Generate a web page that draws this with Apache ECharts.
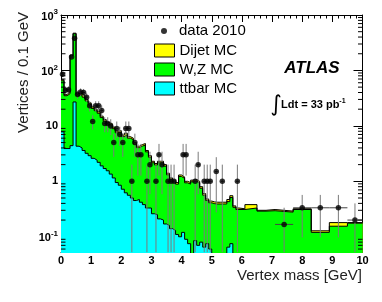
<!DOCTYPE html>
<html><head><meta charset="utf-8">
<script src="https://cdn.jsdelivr.net/npm/echarts@6/dist/echarts.min.js"></script>
<style>html,body{margin:0;padding:0;background:#fff}#c{width:382px;height:302px}</style>
</head><body><div id="c"></div>
<script>
// ---------- data ----------
// fine bins of 0.1 GeV from 0.0 to 5.9, then wider bins ending at these edges
const wideEdges = [6.1, 6.5, 6.8, 7.1, 7.7, 8.3, 8.9, 9.5, 10.0];

const ttbar = [
  7.8, 3.9, 3.9, 4.4, 27, 4.3, 4.0, 3.6, 3.2, 2.9,
  2.6, 2.4, 2.2, 1.9, 1.7, 1.55, 1.35, 1.15, 0.95, 0.85,
  0.72, 0.62, 0.56, 0.5, 0.45, 0.47, 0.42, 0.38, 0.33, 0.33,
  0.26, 0.25, 0.21, 0.2, 0.17, 0.16, 0.14, 0.13, 0.11, 0.10,
  0.12, 0.09, 0.075, 0.01, 0.085, 0.07, 0.08, 0.065, 0.075, 0.06,
  0.045, 0.04, 0.04, 0.04, 0.04, 0.065, 0.075, 0.04, 0.04,
  0.03, 0.03, 0.03, 0.03, 0.03, 0.03, 0.03, 0.03, 0.03
];
const wz = [
  57.2, 31.1, 34.1, 179.6, 431, 31.7, 32, 29.4, 25, 21.6,
  18.1, 16.4, 14.7, 12.2, 10.5, 9.25, 8.95, 7.75, 6.55, 6.85,
  5.68, 6.33, 5.44, 5.15, 4.25, 3.58, 3.9, 4.12, 3.07, 2.39,
  1.9, 1.72, 1.95, 1.96, 1.71, 1.15, 0.94, 0.85, 0.78, 1.12,
  1.01, 0.85, 0.815, 0.97, 0.925, 0.87, 0.67, 0.495, 0.375, 0.35,
  0.35, 0.35, 0.35, 0.35, 0.35, 0.365, 0.435, 0.30, 0.27,
  0.28, 0.30, 0.26, 0.265, 0.248, 0.28, 0.09, 0.125, 0.146
];
const dijet = [
  3, 2, 2, 6, 12, 2, 2, 2, 1.8, 1.5,
  1.3, 1.2, 1.1, 0.9, 0.8, 0.7, 0.7, 0.6, 0.5, 0.5,
  0.4, 0.45, 0.4, 0.35, 0.3, 0.25, 0.28, 0.3, 0.2, 0.18,
  0.14, 0.13, 0.14, 0.14, 0.12, 0.09, 0.07, 0.07, 0.06, 0.08,
  0.07, 0.06, 0.06, 0.07, 0.07, 0.06, 0.05, 0.04, 0.03, 0.03,
  0.03, 0.03, 0.03, 0.03, 0.03, 0.04, 0.04, 0.02, 0.02,
  0.01, 0.05, 0.01, 0.015, 0.012, 0.01, 0.008, 0.025, 0.004
];
const data2010 = [
  85, 44, 45, 175, 380, 37, 41, 40, 33, 23,
  12, 23, 23, 19, 11, 11, 10, 5, 9, 7,
  5, 9, 9, 1, 5, 3, 3, null, 1, 2,
  null, 1, 3, 2, null, 1, 1, 1, null, null,
  3, 3, null, null, 1, 2, null, 1, 1, 1,
  null, 1.5, null, 1, null, null, null, null, 1,
  null, null, null, null, 0.167, 0.333, 0.333, 0.333, 0.2
];

const Y_MIN = 0.052, Y_MAX = 1000;

// ---------- derived ----------
const binEdges = [];
for (let i = 0; i <= 59; i++) binEdges.push(i / 10);
wideEdges.forEach(e => binEdges.push(e));

const wzCum = wz.map((v, i) => v + ttbar[i]);
const total = wzCum.map((v, i) => v + dijet[i]);

function stepData(vals) {
  const out = vals.map((v, i) => [binEdges[i], v]);
  out.push([binEdges[vals.length], vals[vals.length - 1]]);
  return out;
}

const points = [];
data2010.forEach((v, i) => {
  if (v == null) return;
  const a = binEdges[i], b = binEdges[i + 1];
  const w = b - a;
  const n = v * w / 0.1;
  const err = Math.sqrt(n) * 0.1 / w;
  points.push([(a + b) / 2, v, w / 2, v - err, v + err]);
});

const minorY = [];
for (let k = -2; k <= 2; k++) {
  for (let m = 2; m <= 9; m++) {
    const v = m * Math.pow(10, k);
    if (v > Y_MIN && v < Y_MAX) minorY.push([0, v]);
  }
}

const FONT = 'Liberation Sans';

function yFmt(v) {
  const l = Math.log10(v);
  const e = Math.round(l);
  if (Math.abs(l - e) > 1e-6) return '';
  if (e === 0) return '{b|1}';
  if (e === 1) return '{b|10}';
  return '{b|10}{s|' + (e < 0 ? '-' : '') + Math.abs(e) + '}';
}

const axisLineS = {show: true, onZero: false, lineStyle: {color: '#000', width: 1}};

const chart = echarts.init(document.getElementById('c'), null, {renderer: 'canvas'});
chart.setOption({
  animation: false,
  backgroundColor: '#fff',
  grid: {left: 61, top: 15, width: 301.5, height: 237.5, containLabel: false, outerBoundsMode: 'none'},
  legend: [
    {
      data: [{name: 'data 2010', icon: 'circle', itemStyle: {color: '#000'}}],
      left: 161, top: 23.5, padding: 0,
      itemWidth: 6, itemHeight: 6, selectedMode: false,
      textStyle: {fontSize: 15, color: '#000', fontFamily: FONT, padding: [0, 0, 0, 7]}
    },
    {
      data: [
        {name: 'Dijet MC', icon: 'rect', itemStyle: {color: '#ffff00', borderColor: '#000', borderWidth: 1}},
        {name: 'W,Z MC', icon: 'rect', itemStyle: {color: '#00ff00', borderColor: '#000', borderWidth: 1}},
        {name: 'ttbar MC', icon: 'rect', itemStyle: {color: '#00ffff', borderColor: '#000', borderWidth: 1}}
      ],
      orient: 'vertical', left: 154, top: 43, padding: 0,
      itemWidth: 20, itemHeight: 13, itemGap: 4, selectedMode: false,
      textStyle: {fontSize: 15, color: '#000', fontFamily: FONT}
    }
  ],
  xAxis: [
    {
      type: 'value', min: 0, max: 10, interval: 1, position: 'bottom',
      axisLine: axisLineS,
      axisTick: {inside: true, length: 7, lineStyle: {color: '#000'}},
      minorTick: {show: true, splitNumber: 5, length: 3.5, lineStyle: {color: '#000'}},
      splitLine: {show: false}, minorSplitLine: {show: false},
      axisLabel: {fontSize: 11, fontWeight: 'bold', color: '#000', fontFamily: FONT, margin: 3}
    },
    {
      type: 'value', min: 0, max: 10, interval: 1, position: 'top',
      axisLine: axisLineS,
      axisTick: {inside: true, length: 7, lineStyle: {color: '#000'}},
      minorTick: {show: true, splitNumber: 5, length: 3.5, lineStyle: {color: '#000'}},
      splitLine: {show: false}, axisLabel: {show: false}
    }
  ],
  yAxis: [
    {
      type: 'log', logBase: 10, min: Y_MIN, max: Y_MAX, position: 'left',
      axisLine: axisLineS,
      axisTick: {inside: true, length: 9, lineStyle: {color: '#000'}},
      splitLine: {show: false},
      axisLabel: {
        formatter: yFmt, margin: 3, showMinLabel: false,
        rich: {
          b: {fontSize: 11, fontWeight: 'bold', color: '#000', fontFamily: FONT, verticalAlign: 'bottom'},
          s: {fontSize: 8, fontWeight: 'bold', color: '#000', fontFamily: FONT, verticalAlign: 'bottom', padding: [0, 0, 6, 0]}
        }
      },
      name: 'Vertices / 0.1 GeV', nameLocation: 'end', nameGap: 3, nameRotate: 90,
      nameTextStyle: {fontSize: 15, color: '#222', fontFamily: FONT, align: 'right', verticalAlign: 'bottom', padding: [0, 0, 30, 0]}
    },
    {
      type: 'log', logBase: 10, min: Y_MIN, max: Y_MAX, position: 'right',
      axisLine: axisLineS,
      axisTick: {inside: true, length: 9, lineStyle: {color: '#000'}},
      splitLine: {show: false}, axisLabel: {show: false}
    }
  ],
  series: [
    {
      name: 'Dijet MC', type: 'line', step: 'end', data: stepData(total),
      symbol: 'none', itemStyle: {color: '#ffff00'},
      lineStyle: {color: '#000', width: 1},
      areaStyle: {color: '#ffff00', opacity: 1, origin: 0.01}, z: 2
    },
    {
      name: 'W,Z MC', type: 'line', step: 'end', data: stepData(wzCum),
      symbol: 'none', itemStyle: {color: '#00ff00'},
      lineStyle: {color: '#000', width: 1},
      areaStyle: {color: '#00ff00', opacity: 1, origin: 0.01}, z: 2
    },
    {
      name: 'ttbar MC', type: 'line', step: 'end', data: stepData(ttbar),
      symbol: 'none', itemStyle: {color: '#00ffff'},
      lineStyle: {color: '#000', width: 1},
      areaStyle: {color: '#00ffff', opacity: 1, origin: 0.01}, z: 2
    },
    {
      type: 'custom', data: points, z: 4, silent: true, clip: true,
      encode: {x: 0, y: 1},
      renderItem: function (params, api) {
        const x = api.value(0), v = api.value(1), hw = api.value(2);
        const lo = Math.max(api.value(3), Y_MIN), hi = api.value(4);
        const pT = api.coord([x, hi]);
        const pB = api.coord([x, lo]);
        const pL = api.coord([x - hw, v]);
        const pR = api.coord([x + hw, v]);
        return {type: 'group', children: [
          {type: 'line', shape: {x1: pT[0], y1: pT[1], x2: pB[0], y2: pB[1]}, style: {stroke: '#7a7a7a', lineWidth: 1}},
          {type: 'line', shape: {x1: pL[0], y1: pL[1], x2: pR[0], y2: pR[1]}, style: {stroke: '#444', lineWidth: 1}}
        ]};
      }
    },
    {
      name: 'data 2010', type: 'scatter', data: points.map(p => [p[0], p[1]]),
      symbol: 'circle', symbolSize: 5.5, itemStyle: {color: '#000'}, z: 5
    },
    {
      type: 'custom', data: minorY, z: 6, silent: true,
      encode: {x: 0, y: 1},
      renderItem: function (params, api) {
        const cs = params.coordSys;
        const y = api.coord([0, api.value(1)])[1];
        return {type: 'group', children: [
          {type: 'line', shape: {x1: cs.x, y1: y, x2: cs.x + 4.5, y2: y}, style: {stroke: '#000', lineWidth: 1}},
          {type: 'line', shape: {x1: cs.x + cs.width, y1: y, x2: cs.x + cs.width - 4.5, y2: y}, style: {stroke: '#000', lineWidth: 1}}
        ]};
      }
    }
  ],
  graphic: [
    {type: 'text', x: 362, y: 276, style: {text: 'Vertex mass [GeV]', fontSize: 15, fontFamily: FONT, fill: '#222', align: 'right', verticalAlign: 'middle'}},
    {type: 'text', x: 312, y: 68, style: {text: 'ATLAS', fontSize: 17, fontWeight: 'bold', fontStyle: 'italic', fontFamily: FONT, fill: '#000', align: 'center', verticalAlign: 'middle'}},
    {type: 'text', x: 276, y: 105, style: {text: '\u222B', fontSize: 22, fontFamily: 'DejaVu Sans', fill: '#000', align: 'center', verticalAlign: 'middle'}},
    {type: 'text', x: 281, y: 104, style: {
      text: '{a|Ldt = 33 pb}{s|-1}', align: 'left', verticalAlign: 'middle',
      rich: {
        a: {fontSize: 11, fontWeight: 'bold', fontFamily: FONT, fill: '#000', verticalAlign: 'bottom'},
        s: {fontSize: 7, fontWeight: 'bold', fontFamily: FONT, fill: '#000', verticalAlign: 'bottom', padding: [0, 0, 6, 0]}
      }
    }}
  ]
});
</script></body></html>
